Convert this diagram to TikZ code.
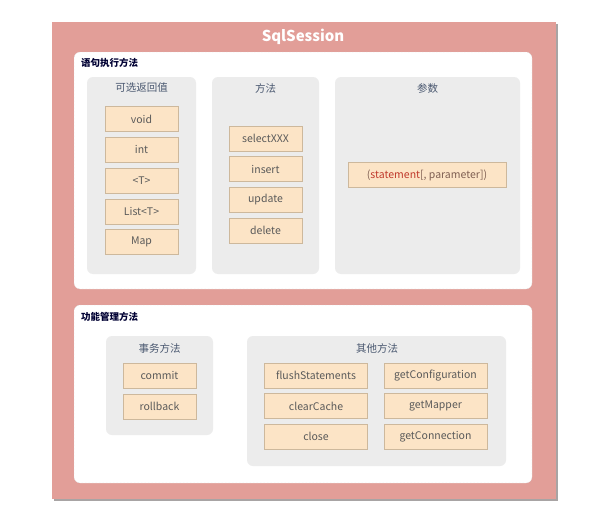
\documentclass[tikz,border=0pt]{standalone}
\usepackage{fontspec}
\setmainfont{Noto Sans CJK SC}
\definecolor{sessionpink}{HTML}{E29E98}
\definecolor{shadowgray}{HTML}{A8A4A4}
\definecolor{groupgray}{HTML}{ECECEC}
\definecolor{itemfill}{HTML}{FCE4C6}
\definecolor{itemline}{HTML}{CDB89C}
\definecolor{itemtext}{HTML}{5A5A5A}
\definecolor{titleblue}{HTML}{4A5870}
\definecolor{paramred}{HTML}{C0392B}
\definecolor{parambrown}{HTML}{7F5F52}

\begin{document}
\begin{tikzpicture}[
  x=1pt, y=-1pt,
  shell/.style={fill=sessionpink},
  section/.style={fill=white, draw=black!20, densely dotted, rounded corners=6pt},
  group/.style={fill=groupgray, rounded corners=6pt},
  item/.style={fill=itemfill, draw=itemline, line width=0.8pt,
    minimum width=73pt, minimum height=25pt, inner sep=0pt,
    text=itemtext, font=\fontsize{10.5}{12}\selectfont},
  wideitem/.style={item, minimum width=103pt},
  heading/.style={anchor=west, inner sep=0pt, text=black!80!blue,
    font=\fontsize{9.5}{11}\selectfont\bfseries},
  grouptitle/.style={inner sep=0pt, text=titleblue, font=\fontsize{10.5}{12}\selectfont}
]
\useasboundingbox (0,0) rectangle (595,530);

% outer frame
\fill [shadowgray] (54,24) rectangle (558,501);
\path [shell] (52,22) rectangle (556,499);
\node [text=white, font=\fontsize{15}{18}\selectfont\bfseries] (session) at (303,37) {SqlSession};

% statement methods
\path [section] (74,52) rectangle (532,289);
\node [heading] (stmt) at (81,63) {语句执行方法};

\path [group] (87,77) rectangle (196,274);
\node [grouptitle] (rettitle) at (141.5,88) {可选返回值};
\foreach \name/\txt [count=\i from 0] in {void/void, int/int, t/{<T>}, list/{List<T>}, map/Map}
  \node [item] (ret-\name) at (141.5,119+30.8*\i) {\txt};

\path [group] (212,77) rectangle (319,274);
\node [grouptitle] (methtitle) at (265.5,88) {方法};
\foreach \name [count=\i from 0] in {selectXXX, insert, update, delete}
  \node [item] (meth-\name) at (265.5,138.5+30.7*\i) {\name};

\path [group] (335,77) rectangle (520,274);
\node [grouptitle] (paramtitle) at (427.5,88) {参数};
\node [item, minimum width=158pt, text=parambrown] (param) at (427,175)
  {(\textcolor{paramred}{statement}[, parameter])};

% management methods
\path [section] (74,305) rectangle (532,483);
\node [heading] (mgmt) at (81,317) {功能管理方法};

\path [group] (106,336) rectangle (213,435);
\node [grouptitle] (txtitle) at (159.5,348) {事务方法};
\node [item] (commit) at (159.5,375.5) {commit};
\node [item] (rollback) at (159.5,406.5) {rollback};

\path [group] (247,336) rectangle (506,466);
\node [grouptitle] (othertitle) at (377,348) {其他方法};
\foreach \name [count=\i from 0] in {flushStatements, clearCache, close}
  \node [wideitem] (other-\name) at (316,375.5+30.5*\i) {\name};
\foreach \name [count=\i from 0] in {getConfiguration, getMapper, getConnection}
  \node [wideitem] (other-\name) at (435.5,375.5+30.5*\i) {\name};
\end{tikzpicture}
\end{document}
